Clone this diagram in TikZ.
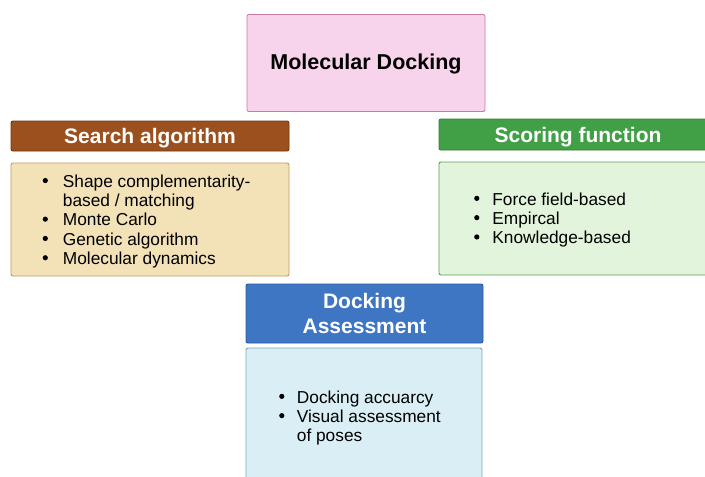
\documentclass[tikz,border=0pt]{standalone}
\usepackage{fontspec}
\setmainfont{Liberation Sans}
\usetikzlibrary{positioning}
\definecolor{pinkfill}{HTML}{F7D4EC}
\definecolor{pinkline}{HTML}{C97BA8}
\definecolor{brownfill}{HTML}{9C501D}
\definecolor{brownline}{HTML}{6E3810}
\definecolor{sandfill}{HTML}{F3E2B8}
\definecolor{sandline}{HTML}{C49A5A}
\definecolor{greenfill}{HTML}{41A046}
\definecolor{greenline}{HTML}{2E7D32}
\definecolor{mintfill}{HTML}{E2F4DB}
\definecolor{mintline}{HTML}{5E9E55}
\definecolor{bluefill}{HTML}{3E76C4}
\definecolor{blueline}{HTML}{2A5A9C}
\definecolor{skyfill}{HTML}{DAEFF5}
\definecolor{skyline}{HTML}{7AA8B8}
\tikzset{
    box/.style = {
        draw,
        rounded corners=2pt,
        line width=0.9pt,
        inner sep=0pt,
        },
    head/.style = {
        box,
        text = white,
        font = \fontsize{21}{25}\selectfont\bfseries,
        align = center,
        },
    body/.style = {
        box,
        },
    list/.style = {
        anchor = west,
        inner sep = 0pt,
        font = \fontsize{17.3}{19.3}\selectfont,
        },
}
\newcommand{\blt}{\raisebox{0.45ex}{\tikz\fill (0,0) circle (2.6pt);}}

\begin{document}
\begin{tikzpicture}[x=1pt, y=-1pt]
            \useasboundingbox (0,0) rectangle (705,477);
            \clip (0,0) rectangle (705,477);

            \node[box, fill=pinkfill, draw=pinkline, minimum width=238pt, minimum height=97pt,
                  text depth=2pt, font=\fontsize{21.5}{25}\selectfont\bfseries] (dock) at (366,63) {Molecular Docking};

            % search algorithm
            \node[head, fill=brownfill, draw=brownline, minimum width=278pt, minimum height=30pt, text depth=0pt] (searchhead) at (150,136) {Search algorithm};
            \node[body, fill=sandfill, draw=sandline, minimum width=278pt, minimum height=113pt] (searchbody) at (150,219.5) {};
            \node[list] (searchlist) at (42.5,222) {%
                \begin{tabular}{@{}l@{\hspace{15pt}}l@{}}
                \blt & Shape complementarity-\\
                     & based / matching\\
                \blt & Monte Carlo\\
                \blt & Genetic algorithm\\
                \blt & Molecular dynamics
                \end{tabular}};

            % scoring function
            \node[head, fill=greenfill, draw=greenline, minimum width=278pt, minimum height=31pt, text depth=0pt] (scorehead) at (578,134.5) {Scoring function};
            \node[body, fill=mintfill, draw=mintline, minimum width=278pt, minimum height=113pt] (scorebody) at (578,218.5) {};
            \node[list] (scorelist) at (474,220.5) {%
                \begin{tabular}{@{}l@{\hspace{13pt}}l@{}}
                \blt & Force field-based\\
                \blt & Empircal\\
                \blt & Knowledge-based
                \end{tabular}};

            % docking assessment
            \node[head, fill=bluefill, draw=blueline, minimum width=237pt, minimum height=59pt] (assesshead) at (364.5,313.5) {Docking\\Assessment};
            \node[body, fill=skyfill, draw=skyline, minimum width=236pt, minimum height=136pt] (assessbody) at (364,416) {};
            \node[list] (assesslist) at (279,418.5) {%
                \begin{tabular}{@{}l@{\hspace{12.5pt}}l@{}}
                \blt & Docking accuarcy\\
                \blt & Visual assessment\\
                     & of poses
                \end{tabular}};
        \end{tikzpicture}
\end{document}
